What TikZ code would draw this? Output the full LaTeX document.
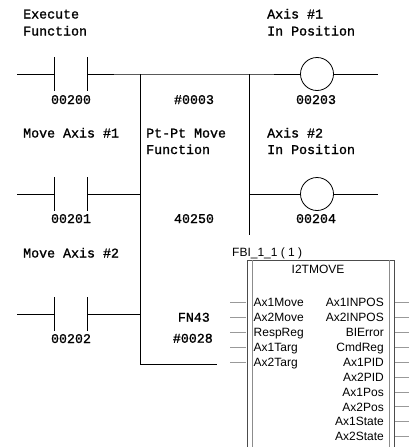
\documentclass[tikz,border=0pt]{standalone}
\usepackage{fontspec}
\newfontfamily\ladderfont[FakeBold=1.2]{Liberation Mono}
\newfontfamily\blockfont{Liberation Sans}
\tikzset{
  rung/.style={line width=1pt},
  contact/.style={minimum width=32pt,minimum height=33pt,inner sep=0pt,
    append after command={(\tikzlastnode.north west) edge[rung] (\tikzlastnode.south west)
      (\tikzlastnode.north east) edge[rung] (\tikzlastnode.south east)}},
  coil/.style={circle,draw,line width=0.8pt,minimum size=33pt,inner sep=0pt},
  ltext/.style={font=\ladderfont\fontsize{13.3pt}{13.3pt}\selectfont,inner sep=0pt},
  btext/.style={font=\blockfont\fontsize{12pt}{12pt}\selectfont,inner sep=0pt},
  pin/.style={draw=gray!80,line width=0.8pt}
}
\begin{document}
\begin{tikzpicture}[x=1pt,y=-1pt]
    \useasboundingbox (0,0) rectangle (409,447);
    \clip (0,0) rectangle (409,447);
    % rung 1
    \coordinate (s1) at (17,74);
    \node[contact] (c200) at (71,74) {};
    \coordinate (j1) at (140,74);
    \coordinate (j2) at (249,74);
    \node[coil] (q203) at (317,74) {};
    \coordinate (e1) at (378,74);
    \draw[rung] (s1) -- (c200.west);
    \draw[rung] (c200.east) -- (j1) -- (j2) -- (q203.west);
    \draw[rung] (q203.east) -- (e1);
    \node[ltext,anchor=base west] (t1) at (23,18.5) {Execute};
    \node[ltext,anchor=base west] (t2) at (23,35.5) {Function};
    \node[ltext,anchor=base west] (t3) at (267,18.5) {Axis \#1};
    \node[ltext,anchor=base west] (t4) at (267,35.5) {In Position};
    \node[ltext,anchor=base] (n200) at (71,104) {00200};
    \node[ltext,anchor=base] (n0003) at (194,104) {\#0003};
    \node[ltext,anchor=base] (n203) at (316,104) {00203};
    % rung 2
    \coordinate (s2) at (17,194);
    \node[contact] (c201) at (71,194) {};
    \coordinate (j3) at (140,194);
    \coordinate (j4) at (249,194);
    \coordinate (j5) at (249,235);
    \node[coil] (q204) at (317,194) {};
    \coordinate (e2) at (378,194);
    \draw[rung] (s2) -- (c201.west);
    \draw[rung] (c201.east) -- (j3);
    \draw[rung] (j2) -- (j5);
    \draw[rung] (j4) -- (q204.west);
    \draw[rung] (q204.east) -- (e2);
    \node[ltext,anchor=base west] (t5) at (23,137.5) {Move Axis \#1};
    \node[ltext,anchor=base west] (t6) at (146,137.5) {Pt-Pt Move};
    \node[ltext,anchor=base west] (t7) at (146,154) {Function};
    \node[ltext,anchor=base west] (t8) at (267,137.5) {Axis \#2};
    \node[ltext,anchor=base west] (t9) at (267,154) {In Position};
    \node[ltext,anchor=base] (n201) at (71,223) {00201};
    \node[ltext,anchor=base] (n40250) at (194,223) {40250};
    \node[ltext,anchor=base] (n204) at (316,223) {00204};
    % rung 3
    \coordinate (s3) at (17,314);
    \node[contact] (c202) at (71,314) {};
    \coordinate (j6) at (140,314);
    \coordinate (j7) at (140,364);
    \coordinate (j8) at (217,364);
    \draw[rung] (s3) -- (c202.west);
    \draw[rung] (c202.east) -- (j6);
    \draw[rung] (j1) -- (j7) -- (j8);
    \node[ltext,anchor=base west] (t10) at (23,257.5) {Move Axis \#2};
    \node[ltext,anchor=base] (n202) at (71,343) {00202};
    \node[ltext,anchor=base east] (fn43) at (210,321.7) {FN43};
    \node[ltext,anchor=base east] (n0028) at (213,342.7) {\#0028};
    % function block
    \node[btext,anchor=base west] (fbi) at (232,256) {FBI\_1\_1 ( 1 )};
    \draw[black!70,line width=0.8pt] (247,470) -- (247,260) -- (394,260) -- (394,470);
    \draw[black!45,line width=0.8pt] (252,260) -- (252,470);
    \draw[black!45,line width=0.8pt] (389,260) -- (389,470);
    \node[btext,anchor=base] (blk) at (318,273.3) {I2TMOVE};
    \node[btext,anchor=base west] (i1) at (253.5,306.7) {Ax1Move};
    \node[btext,anchor=base west] (i2) at (253.5,321.6) {Ax2Move};
    \node[btext,anchor=base west] (i3) at (253.5,336.5) {RespReg};
    \node[btext,anchor=base west] (i4) at (253.5,351.4) {Ax1Targ};
    \node[btext,anchor=base west] (i5) at (253.5,366.3) {Ax2Targ};
    \draw[pin] (230,302) -- (246,302);
    \draw[pin] (230,317) -- (246,317);
    \draw[pin] (230,332) -- (246,332);
    \draw[pin] (230,347) -- (246,347);
    \draw[pin] (230,362.5) -- (246,362.5);
    \node[btext,anchor=base east] (o1) at (384,306.7) {Ax1INPOS};
    \node[btext,anchor=base east] (o2) at (384,321.6) {Ax2INPOS};
    \node[btext,anchor=base east] (o3) at (384,336.5) {BIError};
    \node[btext,anchor=base east] (o4) at (384,351.4) {CmdReg};
    \node[btext,anchor=base east] (o5) at (384,366.3) {Ax1PID};
    \node[btext,anchor=base east] (o6) at (384,381.2) {Ax2PID};
    \node[btext,anchor=base east] (o7) at (384,396.1) {Ax1Pos};
    \node[btext,anchor=base east] (o8) at (384,411) {Ax2Pos};
    \node[btext,anchor=base east] (o9) at (384,425.9) {Ax1State};
    \node[btext,anchor=base east] (o10) at (384,440.8) {Ax2State};
    \draw[pin] (395,302) -- (409,302);
    \draw[pin] (395,317) -- (409,317);
    \draw[pin] (395,332) -- (409,332);
    \draw[pin] (395,347) -- (409,347);
    \draw[pin] (395,362) -- (409,362);
    \draw[pin] (395,377) -- (409,377);
    \draw[pin] (395,392) -- (409,392);
    \draw[pin] (395,406) -- (409,406);
    \draw[pin] (395,421) -- (409,421);
    \draw[pin] (395,436) -- (409,436);
  \end{tikzpicture}
\end{document}
